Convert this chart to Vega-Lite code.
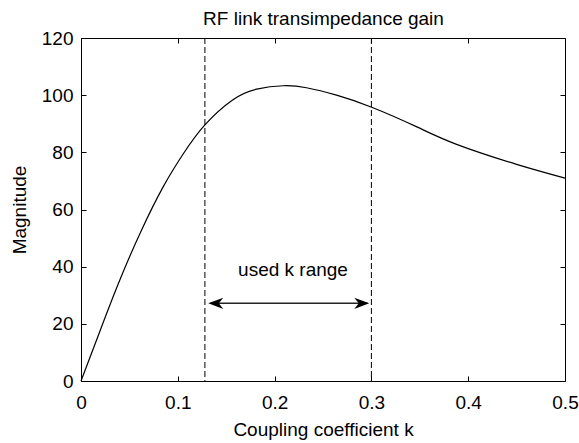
{
  "$schema": "https://vega.github.io/schema/vega-lite/v6.json",
  "width": 484,
  "height": 343,
  "autosize": {"type": "none"},
  "padding": {"left": 81, "top": 38, "right": 14, "bottom": 62},
  "background": "white",
  "config": {
    "view": {"stroke": "black", "strokeWidth": 1},
    "axis": {
      "domain": false,
      "grid": false,
      "tickSize": -5,
      "tickColor": "black",
      "tickWidth": 1,
      "labelFont": "Liberation Sans",
      "labelFontSize": 19,
      "labelColor": "black",
      "labelFlush": false,
      "labelOverlap": false,
      "titleFont": "Liberation Sans",
      "titleFontSize": 19,
      "titleFontWeight": "normal",
      "titleColor": "black"
    }
  },
  "datasets": {
    "curve": [
      {"k": 0, "m": 0},
      {"k": 0.0157, "m": 14},
      {"k": 0.038, "m": 33.6},
      {"k": 0.062, "m": 52.4},
      {"k": 0.085, "m": 68},
      {"k": 0.1057, "m": 79.5},
      {"k": 0.128, "m": 89.6},
      {"k": 0.157, "m": 98.4},
      {"k": 0.1815, "m": 102.1},
      {"k": 0.209, "m": 103.3},
      {"k": 0.233, "m": 102.6},
      {"k": 0.264, "m": 100},
      {"k": 0.301, "m": 95.7},
      {"k": 0.347, "m": 88.9},
      {"k": 0.388, "m": 82.8},
      {"k": 0.45, "m": 75.8},
      {"k": 0.5, "m": 71}
    ],
    "bounds": [{"k": 0.128}, {"k": 0.3}],
    "shaft": [{"k1": 0.1335, "k2": 0.2958, "m": 27.2}],
    "heads": [
      {"k": 0.1315, "m": 27.2, "dir": "left"},
      {"k": 0.2978, "m": 27.2, "dir": "right"}
    ],
    "labels": [{"k": 0.219, "m": 36.7, "text": "used k range"}]
  },
  "layer": [
    {
      "data": {"name": "curve"},
      "mark": {"type": "line", "color": "black", "strokeWidth": 1.2, "interpolate": "natural"},
      "encoding": {
        "x": {
          "field": "k", "type": "quantitative",
          "scale": {"domain": [0, 0.5], "nice": false, "zero": false},
          "axis": {"orient": "bottom", "values": [0, 0.1, 0.2, 0.3, 0.4, 0.5], "format": "~g", "labelPadding": 17, "title": "Coupling coefficient k", "titleY": 54, "titleBaseline": "alphabetic"}
        },
        "y": {
          "field": "m", "type": "quantitative",
          "scale": {"domain": [0, 120], "nice": false},
          "axis": {"orient": "left", "values": [0, 20, 40, 60, 80, 100, 120], "labelPadding": 13, "title": "Magnitude", "titleX": -56, "titleBaseline": "alphabetic", "titleAngle": -90}
        }
      }
    },
    {
      "data": {"name": "bounds"},
      "mark": {"type": "rule", "color": "black", "strokeWidth": 1, "strokeDash": [6, 3]},
      "encoding": {
        "x": {
          "field": "k", "type": "quantitative",
          "scale": {"domain": [0, 0.5], "nice": false, "zero": false},
          "axis": {"orient": "top", "values": [0, 0.1, 0.2, 0.3, 0.4, 0.5], "labels": false, "title": "RF link transimpedance gain", "titleY": -14, "titleBaseline": "alphabetic"}
        }
      }
    },
    {
      "data": {"name": "shaft"},
      "mark": {"type": "rule", "color": "#222", "strokeWidth": 1.6},
      "encoding": {
        "x": {"field": "k1", "type": "quantitative", "scale": {"domain": [0, 0.5], "nice": false, "zero": false}, "axis": null},
        "x2": {"field": "k2"},
        "y": {
          "field": "m", "type": "quantitative",
          "scale": {"domain": [0, 120], "nice": false},
          "axis": {"orient": "right", "values": [0, 20, 40, 60, 80, 100, 120], "labels": false, "title": null}
        }
      }
    },
    {
      "data": {"name": "heads"},
      "mark": {"type": "point", "filled": true, "color": "black", "size": 225, "opacity": 1, "strokeWidth": 0},
      "encoding": {
        "x": {"field": "k", "type": "quantitative", "scale": {"domain": [0, 0.5], "nice": false, "zero": false}, "axis": null},
        "y": {"field": "m", "type": "quantitative", "scale": {"domain": [0, 120], "nice": false}, "axis": null},
        "shape": {
          "field": "dir", "type": "nominal", "legend": null,
          "scale": {"domain": ["left", "right"], "range": ["M0,0L2,-0.75L1.4,0L2,0.75Z", "M0,0L-2,-0.75L-1.4,0L-2,0.75Z"]}
        }
      }
    },
    {
      "data": {"name": "labels"},
      "mark": {"type": "text", "font": "Liberation Sans", "fontSize": 19, "color": "black", "align": "center", "baseline": "alphabetic"},
      "encoding": {
        "x": {"field": "k", "type": "quantitative", "scale": {"domain": [0, 0.5], "nice": false, "zero": false}, "axis": null},
        "y": {"field": "m", "type": "quantitative", "scale": {"domain": [0, 120], "nice": false}, "axis": null},
        "text": {"field": "text"}
      }
    }
  ],
  "resolve": {"axis": {"x": "independent", "y": "independent"}}
}
